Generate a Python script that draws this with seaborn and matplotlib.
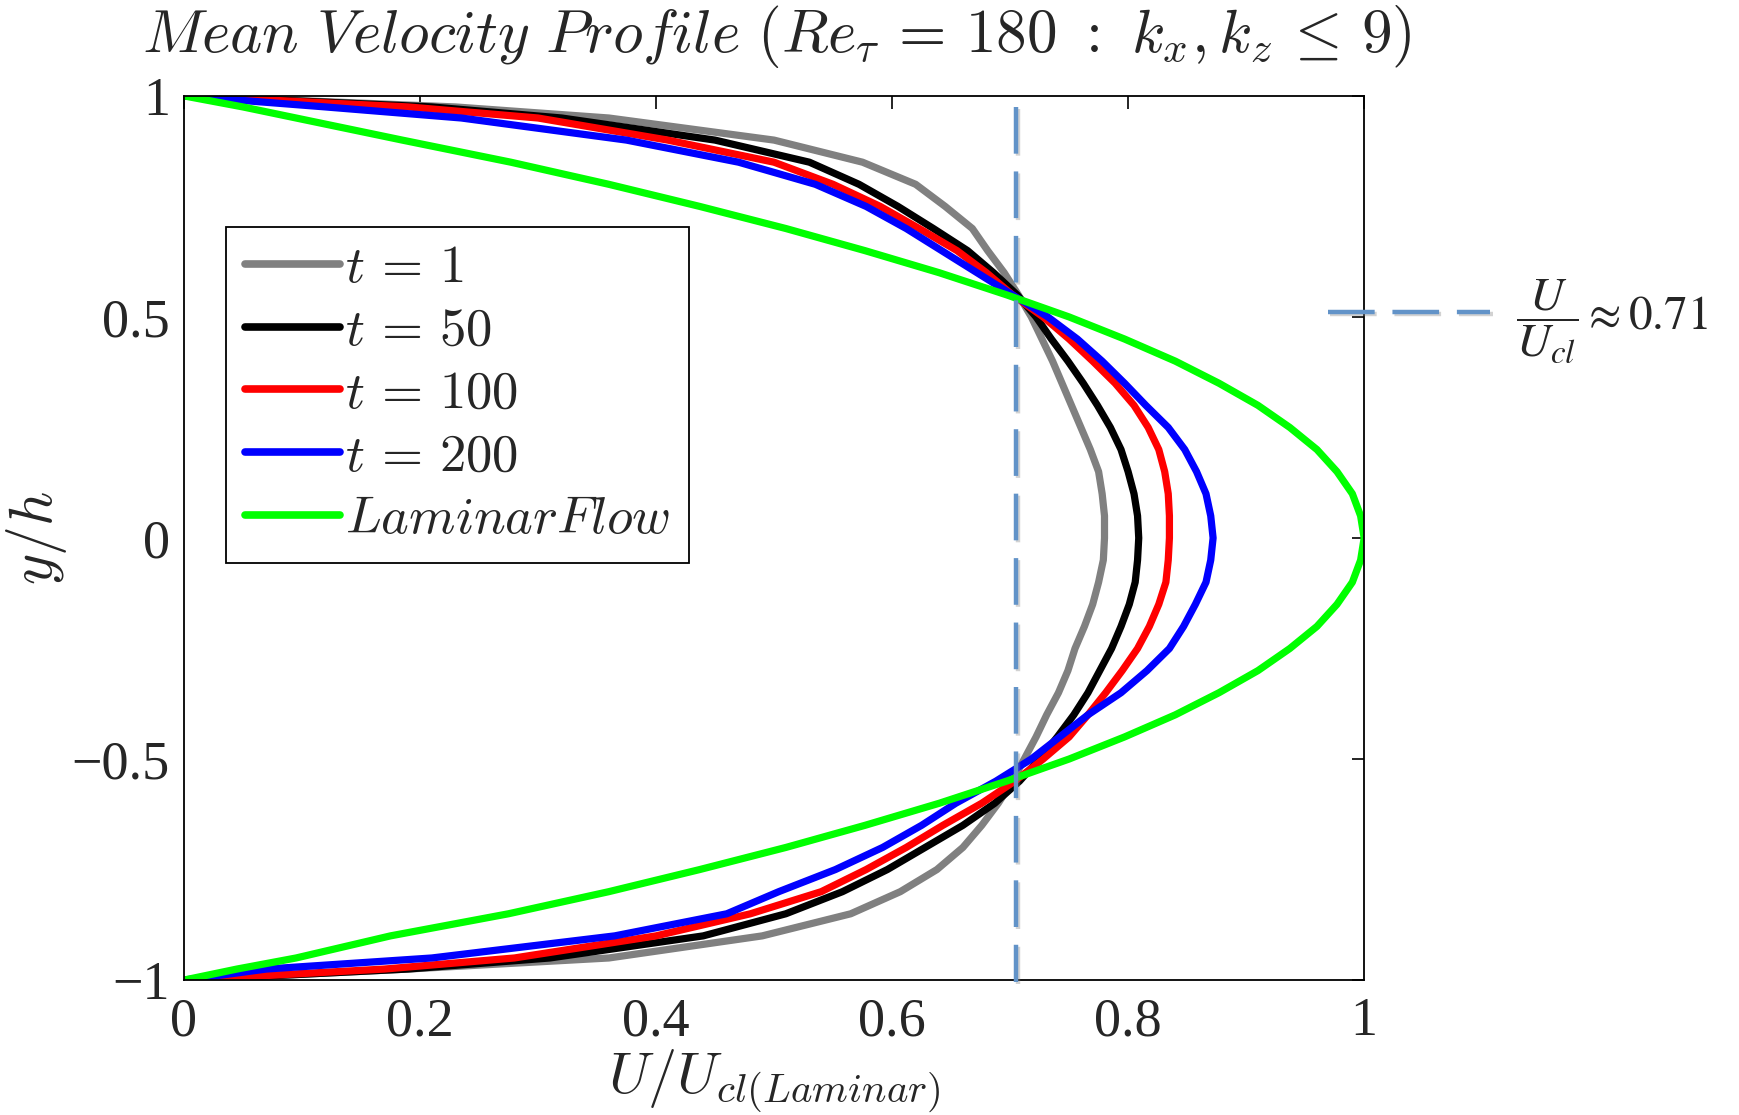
import matplotlib
matplotlib.use("Agg")
import matplotlib.pyplot as plt
import matplotlib.patheffects as pe
import numpy as np
import pandas as pd
import seaborn as sns

# ---------------- data ----------------
y_h = [-1.0, -0.975, -0.95, -0.9, -0.85, -0.8, -0.75, -0.7, -0.65, -0.6, -0.55, -0.5,
       -0.45, -0.4, -0.35, -0.3, -0.25, -0.2, -0.15, -0.1, -0.05,
       0.0,
       0.05, 0.1, 0.15, 0.2, 0.25, 0.3, 0.35, 0.4, 0.45,
       0.5, 0.55, 0.6, 0.65, 0.7, 0.75, 0.8, 0.85, 0.9, 0.95, 0.975, 1.0]

u_t1 = [0.0, 0.19, 0.36, 0.49, 0.565, 0.607, 0.638, 0.660, 0.676, 0.690, 0.702, 0.712,
        0.722, 0.731, 0.741, 0.749, 0.755, 0.763, 0.770, 0.775, 0.779,
        0.780,
        0.780, 0.778, 0.775, 0.768, 0.760, 0.752, 0.744, 0.736, 0.727,
        0.718, 0.707, 0.695, 0.681, 0.668, 0.645, 0.62, 0.575, 0.50, 0.36, 0.23, 0.0]

u_t50 = [0.0, 0.19, 0.31, 0.44, 0.51, 0.558, 0.596, 0.628, 0.660, 0.687, 0.708, 0.725,
         0.740, 0.754, 0.766, 0.776, 0.786, 0.794, 0.801, 0.806, 0.808,
         0.809,
         0.808, 0.805, 0.800, 0.794, 0.785, 0.774, 0.762, 0.749, 0.735,
         0.722, 0.706, 0.686, 0.664, 0.635, 0.605, 0.572, 0.53, 0.45, 0.32, 0.21, 0.0]

u_t100 = [0.0, 0.17, 0.28, 0.40, 0.48, 0.54, 0.578, 0.612, 0.643, 0.676, 0.704, 0.728,
          0.750, 0.766, 0.781, 0.795, 0.808, 0.818, 0.826, 0.832, 0.834,
          0.835,
          0.835, 0.834, 0.831, 0.826, 0.817, 0.805, 0.789, 0.770, 0.750,
          0.728, 0.702, 0.680, 0.655, 0.623, 0.59, 0.55, 0.50, 0.41, 0.30, 0.19, 0.0]

u_t200 = [0.0, 0.07, 0.21, 0.365, 0.46, 0.504, 0.552, 0.592, 0.625, 0.654, 0.688, 0.718,
          0.742, 0.766, 0.794, 0.816, 0.835, 0.847, 0.857, 0.866, 0.870,
          0.872,
          0.870, 0.866, 0.858, 0.848, 0.834, 0.815, 0.797, 0.778, 0.757,
          0.732, 0.702, 0.672, 0.642, 0.612, 0.578, 0.535, 0.47, 0.375, 0.235, 0.12, 0.0]

u_laminar = [0.0, 0.045, 0.095, 0.175, 0.275, 0.36, 0.437, 0.51, 0.577, 0.64, 0.697, 0.75,
             0.797, 0.84, 0.877, 0.91, 0.937, 0.96, 0.977, 0.99, 0.997,
             1.0,
             0.997, 0.99, 0.977, 0.96, 0.937, 0.91, 0.877, 0.84, 0.797,
             0.75, 0.697, 0.64, 0.577, 0.51, 0.437, 0.36, 0.277, 0.185, 0.095, 0.05, 0.0]

series_labels = [r"$t\,=\,1$", r"$t\,=\,50$", r"$t\,=\,100$", r"$t\,=\,200$", r"$LaminarFlow$"]
series_values = [u_t1, u_t50, u_t100, u_t200, u_laminar]
series_colors = ["#808080", "#000000", "#ff0000", "#0000ff", "#00ff00"]

x_ticks = [0, 0.2, 0.4, 0.6, 0.8, 1]
x_tick_labels = ["0", "0.2", "0.4", "0.6", "0.8", "1"]
y_ticks = [-1, -0.5, 0, 0.5, 1]
y_tick_labels = ["\u22121", "\u22120.5", "0", "0.5", "1"]

crossing_u = 0.705          # vertical dashed line  U/U_cl ~ 0.71
annot_text = r"$\dfrac{U}{U_{cl}}\approx 0.71$"

title_text = r"$Mean\ Velocity\ Profile\ (Re_{\tau}\,=\,180\ :\ k_x,k_z\,\leq\,9)$"
xlabel_text = r"$U/U_{cl(Laminar)}$"
ylabel_text = r"$y/h$"

# ---------------- build long table ----------------
frames = []
for lab, vals in zip(series_labels, series_values):
    frames.append(pd.DataFrame({"y": y_h, "U": vals, "series": lab}))
df = pd.concat(frames, ignore_index=True)

# ---------------- style ----------------
sns.set_style("white")
serif = ["Liberation Serif", "DejaVu Serif"]
plt.rcParams["font.family"] = serif
plt.rcParams["mathtext.fontset"] = "cm"
plt.rcParams["axes.unicode_minus"] = True

fig = plt.figure(figsize=(17.4, 11.15), dpi=100)
ax = fig.add_axes([0.1057, 0.121, 0.6783, 0.793])

LW = 5.2
sns.lineplot(data=df, x="U", y="y", hue="series", hue_order=series_labels,
             palette=series_colors, orient="y", estimator=None, sort=True,
             linewidth=LW, ax=ax)

ax.set_xlim(0, 1)
ax.set_ylim(-1, 1)
ax.set_xticks(x_ticks)
ax.set_xticklabels(x_tick_labels)
ax.set_yticks(y_ticks)
ax.set_yticklabels(y_tick_labels)
ax.tick_params(axis="both", which="major", direction="in", length=9, width=1.2,
               labelsize=39, top=True, right=True, color="black")
ax.tick_params(axis="x", pad=12)
ax.tick_params(axis="y", pad=10)
for lab in ax.get_xticklabels() + ax.get_yticklabels():
    lab.set_fontfamily(serif)
for s in ax.spines.values():
    s.set_visible(True)
    s.set_color("black")
    s.set_linewidth(1.3)

ax.set_xlabel(xlabel_text, fontsize=42, labelpad=0)
ax.set_ylabel(ylabel_text, fontsize=43, labelpad=2)

# vertical dashed line at U/Ucl ~ 0.71
shadow = [pe.SimpleLineShadow(offset=(1.5, -1.5), shadow_color="0.5", alpha=0.35), pe.Normal()]
ax.plot([crossing_u, crossing_u], [0.975, -1.005], color="#6293c8", linewidth=3.2,
        dashes=(10.5, 4), clip_on=False, zorder=5, path_effects=shadow)

# horizontal dashed annotation line outside the axes
ax.plot([0.969, 1.107], [0.512, 0.512], color="#6293c8", linewidth=3.2,
        dashes=(10.5, 4), clip_on=False, zorder=5, path_effects=shadow)

fig.text(0.871, 0.712, annot_text, fontsize=34, ha="left", va="center",
         math_fontfamily="stix")

fig.text(0.4466, 0.967, title_text, fontsize=44, ha="center", va="center")

# legend
leg = ax.legend(loc="upper left", bbox_to_anchor=(0.036, 0.852), borderaxespad=0,
                fontsize=38, frameon=True, fancybox=False, shadow=False,
                handlelength=1.8, handletextpad=0.1, labelspacing=0.28,
                borderpad=0.35, edgecolor="black", framealpha=1)
leg.get_frame().set_linewidth(1.3)
for h in leg.get_lines():
    h.set_linewidth(5.5)

fig.savefig("out.png", dpi=100)
